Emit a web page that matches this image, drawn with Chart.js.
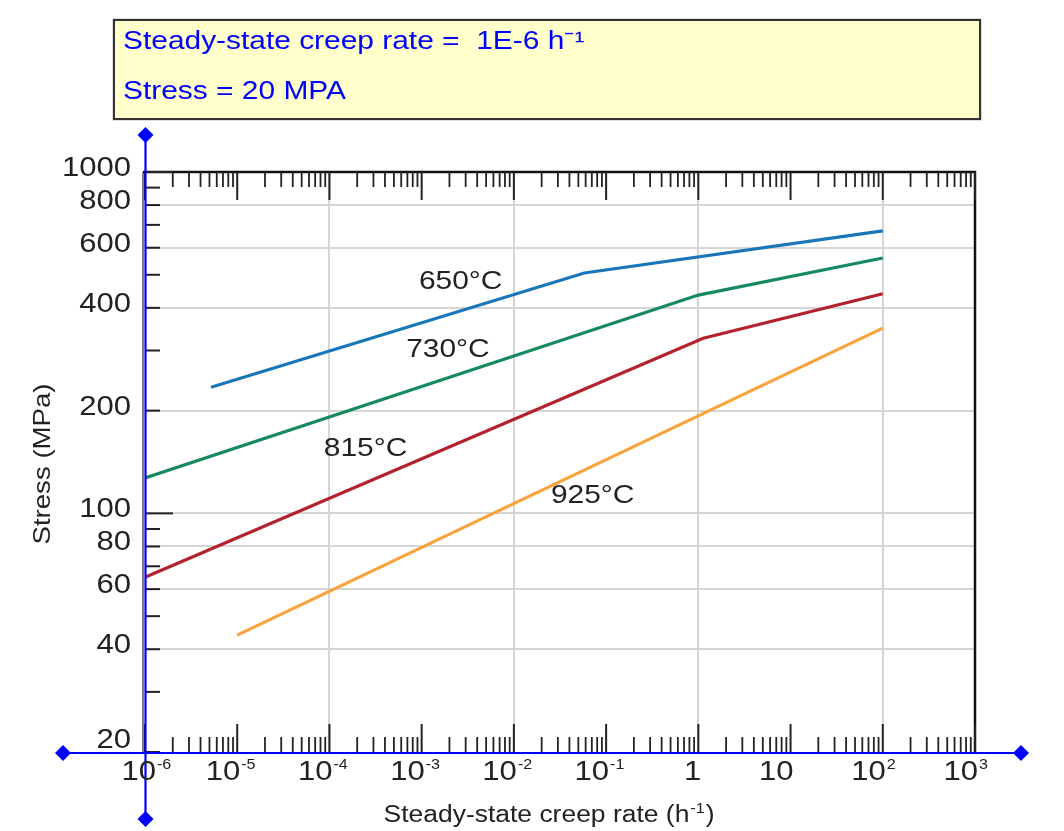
<!DOCTYPE html>
<html>
<head>
<meta charset="utf-8">
<script src="https://cdn.jsdelivr.net/npm/chart.js@4"></script>
<style>
  html, body { margin: 0; padding: 0; background: #fff; }
  #wrap { width: 1064px; height: 831px; position: relative; }
</style>
</head>
<body>
<div id="wrap"><canvas id="chart"></canvas></div>
<script>
// creep curves (rate in 1/h, stress in MPa)
const rate650 = [5.2e-6, 0.058, 100];
const stress650 = [234, 506, 672];
const rate730 = [1e-6, 1, 100];
const stress730 = [127, 436, 560];
const rate815 = [1e-6, 1.13, 100];
const stress815 = [65, 326, 440];
const rate925 = [1e-5, 100];
const stress925 = [44, 349];

const curveNames = ["650°C", "730°C", "815°C", "925°C"];

const xDecades = [1e-6, 1e-5, 1e-4, 1e-3, 1e-2, 1e-1, 1, 10, 100, 1000];
const xTickBase = ["10", "10", "10", "10", "10", "10", "1", "10", "10", "10"];
const xTickExp = ["-6", "-5", "-4", "-3", "-2", "-1", "", "", "2", "3"];
const xGridAt = [1e-4, 1e-2, 1, 100];

const yTickValues = [20, 40, 60, 80, 100, 200, 400, 600, 800, 1000];
const yTickLabels = ["20", "40", "60", "80", "100", "200", "400", "600", "800", "1000"];
const yGridAt = [40, 60, 80, 100, 200, 400, 600, 800];

const infoLines = ["Steady-state creep rate =  1E-6 h⁻¹", "Stress = 20 MPA"];

// where the curve names sit, in data units (left end of text, baseline)
const labelAt = [
  { x: 9.35e-4, y: 454 },
  { x: 6.8e-4, y: 287 },
  { x: 8.7e-5, y: 147 },
  { x: 0.0252, y: 107 },
];

const STRETCH = 1.15;
const FONT = '"Liberation Sans", Arial, sans-serif';
const INK = "#222";
const BLUE = "#0000ff";

function pts(xs, ys) {
  return xs.map((v, i) => ({ x: v, y: ys[i] }));
}

function drawText(ctx, str, x, y, size, align, color, angle) {
  ctx.save();
  ctx.translate(x, y);
  if (angle) ctx.rotate(angle);
  ctx.scale(STRETCH, 1);
  ctx.font = size + "px " + FONT;
  ctx.textAlign = align;
  ctx.textBaseline = "alphabetic";
  ctx.fillStyle = color;
  ctx.fillText(str, 0, 0);
  ctx.restore();
}

function textWidth(ctx, str, size) {
  ctx.save();
  ctx.font = size + "px " + FONT;
  const w = ctx.measureText(str).width * STRETCH;
  ctx.restore();
  return w;
}

function line(ctx, x1, y1, x2, y2, color, width) {
  ctx.beginPath();
  ctx.strokeStyle = color;
  ctx.lineWidth = width;
  ctx.moveTo(x1, y1);
  ctx.lineTo(x2, y2);
  ctx.stroke();
}

function diamond(ctx, cx, cy, r) {
  ctx.beginPath();
  ctx.fillStyle = BLUE;
  ctx.moveTo(cx, cy - r);
  ctx.lineTo(cx + r, cy);
  ctx.lineTo(cx, cy + r);
  ctx.lineTo(cx - r, cy);
  ctx.closePath();
  ctx.fill();
}

const decor = {
  id: "decor",
  afterDatasetsDraw(chart) {
    const { ctx, chartArea: a } = chart;
    const x = chart.scales.x;
    const y = chart.scales.y;
    ctx.save();

    // frame
    line(ctx, a.left - 2, a.top, a.left - 2, a.bottom, "#555", 1.5);
    ctx.beginPath();
    ctx.strokeStyle = "#111";
    ctx.lineWidth = 2.5;
    ctx.moveTo(a.left - 2, a.top);
    ctx.lineTo(a.right, a.top);
    ctx.lineTo(a.right, a.bottom);
    ctx.stroke();

    // x ticks, top and bottom, pointing inward
    xDecades.forEach((d, i) => {
      const px = x.getPixelForValue(d);
      line(ctx, px, a.top, px, a.top + 28, INK, 2);
      line(ctx, px, a.bottom, px, a.bottom - 28, INK, 2);
      if (i < xDecades.length - 1) {
        for (let k = 2; k <= 9; k++) {
          const mx = x.getPixelForValue(k * d);
          line(ctx, mx, a.top, mx, a.top + 15, INK, 1.8);
          line(ctx, mx, a.bottom, mx, a.bottom - 15, INK, 1.8);
        }
      }
    });

    // y ticks on the left
    [10, 100, 1000].forEach((d) => {
      for (let k = 1; k <= 9; k++) {
        const v = k * d;
        if (v < 20 || v > 1000) continue;
        const py = y.getPixelForValue(v);
        line(ctx, a.left, py, a.left + (k === 1 ? 28 : 15), py, INK, 2);
      }
    });

    // blue axes with diamond ends
    const axY = a.bottom + 1;
    const axX = a.left + 0.5;
    line(ctx, a.left - 82, axY, a.right + 46, axY, BLUE, 2.2);
    line(ctx, axX, a.top - 37, axX, a.bottom + 67, BLUE, 2.2);
    diamond(ctx, a.left - 82, axY, 8);
    diamond(ctx, a.right + 46, axY, 8);
    diamond(ctx, axX, a.top - 37, 8);
    diamond(ctx, axX, a.bottom + 67, 8);

    // y tick labels
    yTickValues.forEach((v, i) => {
      const py = y.getPixelForValue(v);
      drawText(ctx, yTickLabels[i], a.left - 14, Math.min(py + 4, a.bottom - 4), 27, "right", INK);
    });

    // x tick labels: base right-aligned near the tick, exponent raised
    xDecades.forEach((d, i) => {
      const px = Math.max(x.getPixelForValue(d) + 3, a.left + 11);
      const base = a.bottom + 28;
      drawText(ctx, xTickBase[i], px, base, 27, "right", INK);
      if (xTickExp[i]) drawText(ctx, xTickExp[i], px + 1, base - 11, 14, "left", INK);
    });

    // axis titles
    drawText(ctx, "Stress (MPa)", 50, (a.top + a.bottom) / 2 + 2, 24, "center", INK, -Math.PI / 2);
    const t1 = "Steady-state creep rate (h";
    const t2 = "-1";
    const t3 = ")";
    const w1 = textWidth(ctx, t1, 23);
    const w2 = textWidth(ctx, t2, 14);
    const w3 = textWidth(ctx, t3, 23);
    let sx = 548 - (w1 + w2 + w3) / 2;
    const by = a.bottom + 70;
    drawText(ctx, t1, sx, by, 23, "left", INK);
    drawText(ctx, t2, sx + w1 + 1, by - 9, 14, "left", INK);
    drawText(ctx, t3, sx + w1 + w2 + 2, by, 23, "left", INK);

    // curve names
    labelAt.forEach((p, i) => {
      drawText(ctx, curveNames[i], x.getPixelForValue(p.x), y.getPixelForValue(p.y), 26, "left", INK);
    });

    ctx.restore();
  },
  afterDraw(chart) {
    const { ctx } = chart;
    ctx.save();
    ctx.fillStyle = "#ffffcc";
    ctx.fillRect(114, 20, 866, 99);
    ctx.strokeStyle = "#bbb";
    ctx.lineWidth = 1;
    ctx.strokeRect(113, 19, 868, 101);
    ctx.strokeStyle = "#333";
    ctx.lineWidth = 2;
    ctx.strokeRect(114, 20, 866, 99);
    drawText(ctx, infoLines[0], 123, 49, 26, "left", BLUE);
    drawText(ctx, infoLines[1], 123, 99, 26, "left", BLUE);
    ctx.restore();
  },
};

const context = document.getElementById("chart");

const chart = new Chart(context, {
  type: "scatter",
  data: {
    datasets: [
      { label: curveNames[0], data: pts(rate650, stress650), borderColor: "#1976b8" },
      { label: curveNames[1], data: pts(rate730, stress730), borderColor: "#168a5c" },
      { label: curveNames[2], data: pts(rate815, stress815), borderColor: "#b3222c" },
      { label: curveNames[3], data: pts(rate925, stress925), borderColor: "#f9a33a" },
    ].map((ds) => ({
      ...ds,
      showLine: true,
      borderWidth: 3.2,
      pointRadius: 0,
      tension: 0,
    })),
  },
  options: {
    responsive: true,
    maintainAspectRatio: false,
    animation: false,
    layout: {
      padding: { left: 145, right: 89, top: 172, bottom: 79 },
    },
    scales: {
      x: {
        type: "logarithmic",
        min: 1e-6,
        max: 1e3,
        afterBuildTicks: (s) => {
          s.ticks = xGridAt.map((v) => ({ value: v }));
        },
        afterFit: (s) => {
          s.height = 0;
        },
        ticks: { display: false },
        grid: { color: "#d6d6d6", lineWidth: 2, drawTicks: false },
        border: { display: false },
      },
      y: {
        type: "logarithmic",
        min: 20,
        max: 1000,
        afterBuildTicks: (s) => {
          s.ticks = yGridAt.map((v) => ({ value: v }));
        },
        afterFit: (s) => {
          s.width = 0;
        },
        ticks: { display: false },
        grid: { color: "#d6d6d6", lineWidth: 2, drawTicks: false },
        border: { display: false },
      },
    },
    plugins: {
      legend: { display: false },
      tooltip: { enabled: false },
    },
  },
  plugins: [decor],
});
</script>
</body>
</html>
